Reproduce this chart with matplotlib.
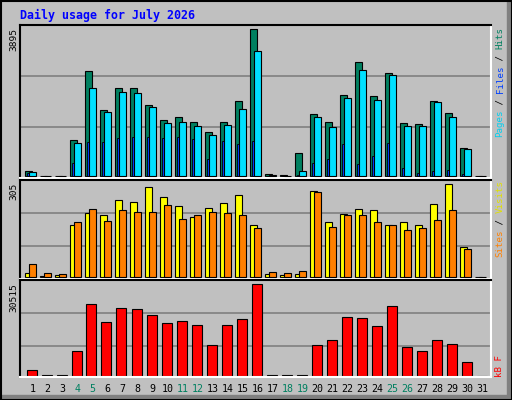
import matplotlib
matplotlib.use("Agg")
import matplotlib.pyplot as plt
from matplotlib.patches import Rectangle

days = list(range(1, 32))
hits = [141,10,10,960,2785,1754,2335,2335,1886,1489,1569,1436,1172,1436,1992,3895,
        62,35,617,1648,1436,2150,3023,2124,2732,1410,1384,1992,1674,749,0]
files = [106,0,0,881,2335,1701,2230,2203,1833,1410,1436,1331,1093,1357,1780,3313,
         35,0,141,1569,1304,2071,2811,2018,2679,1331,1331,1965,1569,723,0]
pages = [90,0,0,352,908,908,1013,1040,1040,1013,1040,987,458,934,855,934,
         0,0,26,352,458,855,326,538,881,220,88,141,167,62,0]
visits = [11,3,4,170,209,203,252,246,295,262,232,196,226,242,269,170,
          8,4,8,282,179,206,222,219,170,179,170,239,305,97,0]
sites = [41,11,8,179,222,183,219,213,213,236,189,203,213,209,203,160,
         14,11,18,279,163,203,203,179,170,153,160,186,219,90,0]
kbytes = [1782,100,100,8130,23833,17819,22497,22162,20158,17485,18153,16817,10135,16817,18822,30515,
          100,100,100,10135,11805,19490,19156,16483,23165,9466,8130,11805,10469,4455,0]
weekend = [4,5,11,12,18,19,25,26]
title = "Daily usage for July 2026"

W, H = 512, 400
BG = "#C0C0C0"
fig = plt.figure(figsize=(W/100, H/100), dpi=100, facecolor=BG)

def fx(px): return px / W
def fy(py): return 1 - py / H

# frame / shadow
fig.add_artist(Rectangle((fx(W-5), 0), fx(5), 1, transform=fig.transFigure, color="#808080", zorder=0))
fig.add_artist(Rectangle((0, 0), 1, fx(0)+5/H, transform=fig.transFigure, color="#808080", zorder=0))
fig.add_artist(Rectangle((0.5/W, 0.5/H), 1-1/W, 1-1/H, transform=fig.transFigure, fill=False, ec="black", lw=1.5, zorder=5))

mono = "DejaVu Sans Mono"
fig.text(fx(20), fy(15), title, color="#0000FF", fontsize=8.4, fontweight="bold", family=mono, va="center", ha="left")

def make_ax(top, bottom, base, kmax, vmax, grids):
    ax = fig.add_axes([fx(20), fy(bottom), fx(471), (bottom-top)/H])
    ax.set_facecolor(BG)
    k = vmax / (base - kmax)
    ax.set_ylim(-(bottom-base)*k, (base-top)*k)
    ax.set_xlim(0, 471/15)
    for g in grids:
        ax.axhline((base-g)*k, color="#808080", lw=1.2, zorder=0)
    ax.set_xticks([]); ax.set_yticks([])
    for s in ["top", "left"]:
        ax.spines[s].set_color("black"); ax.spines[s].set_linewidth(1.5)
    for s in ["bottom", "right"]:
        ax.spines[s].set_color("white"); ax.spines[s].set_linewidth(1.5)
    fig.text(fx(14), fy(top+3), str(vmax), rotation=90, ha="center", va="top", family=mono, fontsize=6.8)
    return ax

u = 1/15
xl = [d-1+5*u for d in days]
ax1 = make_ax(25, 178, 176, 29, 3895, [127, 76])
ax1.bar(xl, hits, 7*u, align="edge", color="#008060", ec="black", lw=0.8, zorder=2)
ax1.bar([x+2*u for x in xl], pages, 2*u, align="edge", color="#0040FF", ec="black", lw=0.6, zorder=3)
ax1.bar([x+4*u for x in xl], files, 7.3*u, align="edge", color="#00E0FF", ec="black", lw=0.8, zorder=4)

ax2 = make_ax(180, 279, 276.7, 184.3, 305, [246.3, 213.3])
ax2.bar(xl, visits, 7*u, align="edge", color="#FFFF00", ec="black", lw=0.8, zorder=2)
ax2.bar([x+4*u for x in xl], sites, 7*u, align="edge", color="#FF8000", ec="black", lw=0.8, zorder=3)

ax3 = make_ax(280, 377, 375.7, 284.3, 30515, [346, 313.3])
ax3.bar([x+1.5*u for x in xl], kbytes, 10*u, align="edge", color="#FF0000", ec="black", lw=0.8, zorder=2)

for d in days:
    fig.text(fx(25+15*(d-1)+7.5), fy(389), str(d), ha="center", va="center", family=mono, fontsize=7.2,
             color="#008060" if d in weekend else "black")

def side(pieces, ybottom):
    i = 0
    for txt, col in pieces:
        fig.text(fx(500), fy(ybottom - i*5.5), txt, rotation=90, ha="center", va="bottom",
                 family=mono, fontsize=6.6, color=col)
        i += len(txt)

side([("Pages", "#00D0F0"), (" / ", "black"), ("Files", "#0040FF"), (" / ", "black"), ("Hits", "#008060")], 137)
side([("Sites", "#FF8000"), (" / ", "black"), ("Visits", "#E0E000")], 257)
side([("kB F", "#FF0000")], 377)

fig.savefig("out.png", dpi=100, facecolor=BG)
